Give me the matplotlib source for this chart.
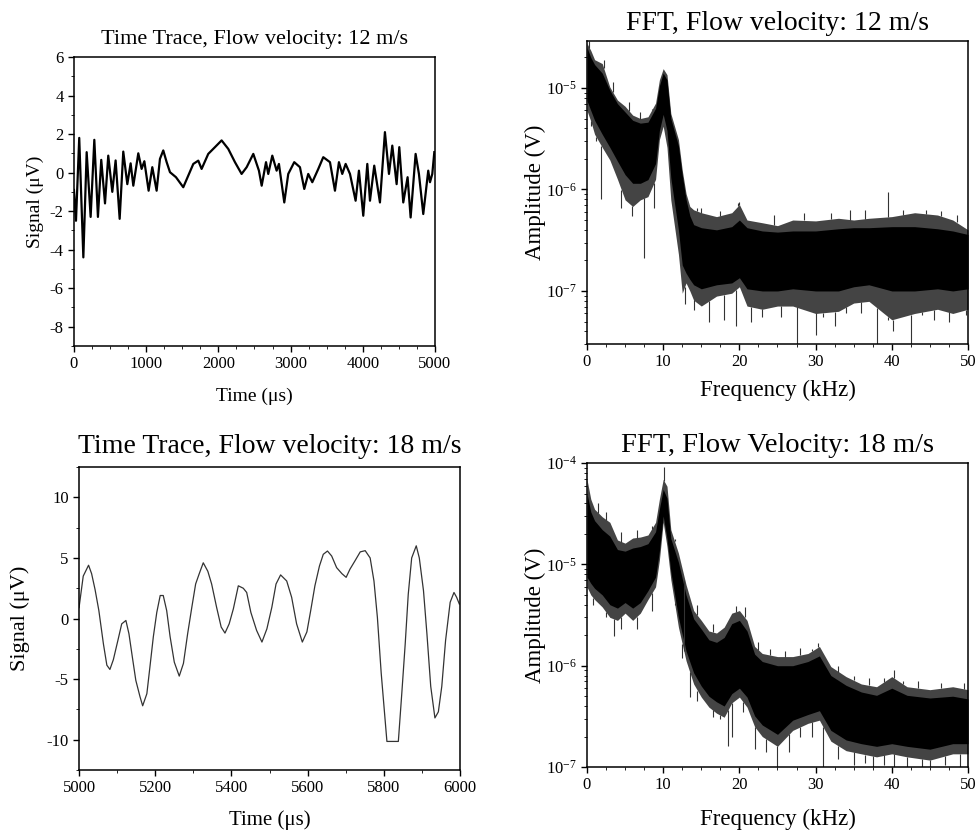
import numpy as np
import matplotlib.pyplot as plt
from matplotlib.ticker import MultipleLocator, LogLocator, LogFormatterMathtext, NullFormatter

plt.rcParams['font.family'] = ['Liberation Serif', 'DejaVu Serif']
plt.rcParams['mathtext.fontset'] = 'custom'
plt.rcParams['mathtext.rm'] = 'Liberation Serif'
plt.rcParams['mathtext.it'] = 'Liberation Serif:italic'
plt.rcParams['axes.unicode_minus'] = False

# --- Time trace, 12 m/s (peaks and troughs) ---
t12 = [0, 28, 73, 130, 176, 231, 282, 332, 378, 430, 475, 531, 577, 633, 683, 739,
       785, 822, 891, 937, 975, 1034, 1085, 1145, 1191, 1237, 1284, 1330, 1413, 1514,
       1583, 1653, 1722, 1768, 1860, 1953, 2045, 2137, 2230, 2322, 2392, 2484, 2562,
       2600, 2660, 2691, 2747, 2807, 2839, 2913, 2968, 3051, 3130, 3190, 3245, 3301,
       3384, 3453, 3546, 3615, 3670, 3716, 3763, 3823, 3901, 3947, 4007, 4063, 4100,
       4159, 4238, 4307, 4363, 4409, 4469, 4506, 4561, 4621, 4663, 4732, 4778, 4838,
       4907, 4931, 4963, 4991]
s12 = [-0.9, -2.5, 1.8, -4.4, 1.06, -2.3, 1.7, -2.3, 0.66, -1.6, 0.88, -1.0, 0.63, -2.4,
       1.09, -0.6, 0.48, -0.68, 1.0, 0.19, 0.59, -0.94, 0.28, -0.94, 0.71, 1.15, 0.54,
       0.02, -0.24, -0.76, -0.16, 0.45, 0.62, 0.19, 0.97, 1.32, 1.67, 1.23, 0.54, -0.07,
       0.28, 0.97, 0.1, -0.68, 0.54, -0.07, 0.88, 0.1, 0.45, -1.55, -0.07, 0.54, 0.28,
       -0.85, -0.07, -0.5, 0.19, 0.8, 0.54, -0.94, 0.54, -0.07, 0.45, -0.07, -1.46, 0.1,
       -2.24, 0.45, -1.46, 0.36, -1.55, 2.1, -0.07, 1.4, -0.6, 1.32, -1.55, -0.24, -2.33,
       0.97, -0.07, -2.15, 0.1, -0.5, -0.07, 1.06]

# --- Time trace, 18 m/s ---
t18 = [5000, 5011, 5025, 5033, 5042, 5052, 5064, 5073, 5081, 5090, 5102, 5112, 5123,
       5131, 5140, 5149, 5160, 5167, 5178, 5186, 5195, 5204, 5213, 5221, 5230, 5239,
       5250, 5263, 5274, 5285, 5296, 5306, 5315, 5326, 5338, 5348, 5361, 5373, 5383,
       5394, 5405, 5418, 5431, 5440, 5451, 5466, 5480, 5493, 5506, 5517, 5529, 5545,
       5558, 5571, 5586, 5598, 5608, 5619, 5631, 5641, 5652, 5663, 5676, 5690, 5701,
       5711, 5724, 5738, 5751, 5764, 5774, 5783, 5793, 5808, 5838, 5847, 5856, 5864,
       5873, 5885, 5893, 5904, 5913, 5923, 5934, 5943, 5952, 5962, 5974, 5984, 5991, 5998]
s18 = [0.9, 3.5, 4.4, 3.7, 2.4, 0.66, -2.1, -3.85, -4.2, -3.4, -1.8, -0.44, -0.16,
       -1.26, -3.2, -5.1, -6.45, -7.2, -6.2, -4.0, -1.5, 0.5, 1.9, 1.9, 0.66, -1.5,
       -3.6, -4.75, -3.7, -1.26, 0.93, 2.85, 3.66, 4.6, 3.9, 2.85, 0.93, -0.7, -1.2,
       -0.44, 0.8, 2.7, 2.5, 2.15, 0.5, -0.98, -1.94, -0.85, 0.93, 2.85, 3.6, 3.1,
       1.75, -0.44, -1.94, -1.1, 0.66, 2.7, 4.34, 5.3, 5.57, 5.16, 4.2, 3.7, 3.4,
       4.07, 4.75, 5.5, 5.6, 5.0, 3.1, 0.1, -4.5, -10.14, -10.14, -6.2, -2.1, 2.0,
       5.0, 6.0, 5.0, 2.3, -1.26, -5.6, -8.2, -7.7, -5.6, -1.8, 1.34, 2.15, 1.75, 1.2]

# --- FFT 12 m/s: outer extent and dense core of the noisy spectrum ---
f12 = [0, 0.5, 1, 2, 3, 4, 5, 6, 7, 8, 9, 9.5, 10, 10.5, 11, 12, 12.5, 13, 13.5, 14,
       15, 17, 19, 20, 21, 23, 25, 27, 30, 33, 35, 37, 40, 43, 46, 48, 50]
a12_hi = [2.75e-5, 2.34e-5, 1.9e-5, 1.74e-5, 1.02e-5, 7.6e-6, 6.6e-6, 5.4e-6, 5.0e-6,
          5.2e-6, 7.1e-6, 1.2e-5, 1.55e-5, 1.35e-5, 5.6e-6, 3.1e-6, 1.55e-6, 9.1e-7,
          6.8e-7, 6.3e-7, 5.9e-7, 5.4e-7, 5.9e-7, 7.1e-7, 5.0e-7, 4.7e-7, 4.4e-7, 5.0e-7,
          4.9e-7, 5.2e-7, 5.0e-7, 5.2e-7, 5.4e-7, 5.9e-7, 5.6e-7, 5.0e-7, 4.0e-7]
a12_lo = [6.0e-6, 4.7e-6, 3.5e-6, 2.6e-6, 1.95e-6, 1.26e-6, 7.9e-7, 6.8e-7, 7.9e-7,
          8.5e-7, 1.26e-6, 3.1e-6, 4.2e-6, 2.6e-6, 7.9e-7, 2.3e-7, 9.5e-8, 1.2e-7,
          1.0e-7, 8.1e-8, 7.1e-8, 8.9e-8, 9.5e-8, 1.1e-7, 7.1e-8, 6.6e-8, 7.1e-8, 7.1e-8,
          6.0e-8, 6.3e-8, 7.6e-8, 7.9e-8, 5.2e-8, 6.0e-8, 6.6e-8, 6.0e-8, 6.6e-8]
c12_hi = [2.5e-5, 2.0e-5, 1.7e-5, 1.4e-5, 9.5e-6, 7e-6, 5.8e-6, 4.8e-6, 4.5e-6, 4.6e-6,
          6.3e-6, 1.05e-5, 1.4e-5, 1.2e-5, 5e-6, 2.7e-6, 1.4e-6, 8e-7, 5.5e-7, 4.5e-7,
          4.2e-7, 4e-7, 4.3e-7, 5e-7, 4.2e-7, 3.9e-7, 3.8e-7, 3.9e-7, 3.9e-7, 4.1e-7,
          4.2e-7, 4.2e-7, 4.3e-7, 4.3e-7, 4.1e-7, 3.9e-7, 3.6e-7]
c12_lo = [7.5e-6, 6e-6, 4.8e-6, 3.5e-6, 2.6e-6, 1.9e-6, 1.4e-6, 1.15e-6, 1.15e-6,
          1.25e-6, 1.8e-6, 3.8e-6, 5.5e-6, 3.8e-6, 1.3e-6, 4e-7, 1.8e-7, 1.5e-7, 1.3e-7,
          1.15e-7, 1.05e-7, 1.15e-7, 1.2e-7, 1.35e-7, 1.05e-7, 1.0e-7, 1.0e-7, 1.05e-7,
          1.0e-7, 1.0e-7, 1.1e-7, 1.15e-7, 1.0e-7, 1.0e-7, 1.05e-7, 1.0e-7, 1.05e-7]
# spikes sticking out of the band (frequency, tip amplitude)
sp12_f = [1.9, 7.5, 12.8, 16.0, 21.5, 27.5, 30.1, 32.5, 38.1, 40.1, 42.5, 14.5, 20.0, 39.5,
          0.3, 2.2, 3.4, 5.5, 7.0, 8.5, 15.0, 17.5, 19.8, 24.5, 28.5, 32.0, 34.5, 36.5,
          41.5, 44.5, 46.5, 48.5,
          0.5, 1.2, 4.5, 5.9, 8.8, 14.0, 18.0, 19.5, 23.0, 25.5, 31.0, 34.0, 36.0, 39.5,
          44.0, 45.5, 47.5, 49.8]
sp12_a = [8e-7, 2.1e-7, 7.4e-8, 5e-8, 5e-8, 3e-8, 3.7e-8, 4.5e-8, 3e-8, 4e-8, 3e-8,
          6.5e-7, 7.5e-7, 9.5e-7,
          2.9e-5, 1.9e-5, 1.15e-5, 7.2e-6, 5.8e-6, 6.2e-6, 6.6e-7, 6.2e-7, 7.4e-7, 5.6e-7,
          5.8e-7, 5.9e-7, 6.3e-7, 6.3e-7, 6.3e-7, 6.3e-7, 6.2e-7, 5.6e-7,
          4.2e-6, 3.0e-6, 6.5e-7, 5.5e-7, 6.5e-7, 6.5e-8, 5.2e-8, 4.5e-8, 5.6e-8, 5.6e-8,
          5.6e-8, 6.0e-8, 6.1e-8, 5.2e-8, 5.8e-8, 5.2e-8, 4.9e-8, 5.8e-8]

# --- FFT 18 m/s ---
f18 = [0, 0.5, 1, 2, 3, 4, 5, 6, 7, 8, 9, 9.5, 10, 10.5, 11, 12, 13, 14, 15, 16, 17,
       18, 19, 20, 21, 22, 23, 25, 27, 29, 30.5, 32, 34, 36, 38, 40, 42, 45, 48, 50]
a18_hi = [6.9e-5, 4.4e-5, 3.5e-5, 2.95e-5, 2.6e-5, 1.74e-5, 1.62e-5, 1.82e-5, 1.86e-5,
          1.95e-5, 2.6e-5, 4.4e-5, 6.9e-5, 5.9e-5, 2.2e-5, 1.29e-5, 6.3e-6, 3.5e-6,
          2.8e-6, 2.2e-6, 2.1e-6, 2.4e-6, 3.3e-6, 3.5e-6, 2.8e-6, 1.55e-6, 1.32e-6,
          1.23e-6, 1.23e-6, 1.32e-6, 1.55e-6, 9.8e-7, 7.8e-7, 6.6e-7, 6.2e-7, 7.8e-7,
          6.2e-7, 5.8e-7, 6.2e-7, 5.8e-7]
a18_lo = [6.0e-6, 5.0e-6, 4.5e-6, 3.8e-6, 3.0e-6, 2.8e-6, 3.3e-6, 2.8e-6, 3.3e-6,
          4.5e-6, 6.0e-6, 1.1e-5, 2.6e-5, 1.5e-5, 7.1e-6, 2.4e-6, 1.12e-6, 6.6e-7,
          4.9e-7, 3.9e-7, 3.4e-7, 3.1e-7, 4.3e-7, 4.9e-7, 3.9e-7, 2.5e-7, 2.0e-7,
          1.6e-7, 2.3e-7, 2.7e-7, 2.9e-7, 1.8e-7, 1.45e-7, 1.35e-7, 1.26e-7, 1.35e-7,
          1.26e-7, 1.17e-7, 1.35e-7, 1.35e-7]
c18_hi = [5e-5, 3.3e-5, 2.7e-5, 2.2e-5, 1.9e-5, 1.4e-5, 1.35e-5, 1.45e-5, 1.5e-5,
          1.6e-5, 2.1e-5, 3.5e-5, 5.5e-5, 4.5e-5, 1.8e-5, 1.05e-5, 5e-6, 2.9e-6, 2.3e-6,
          1.8e-6, 1.7e-6, 1.9e-6, 2.6e-6, 2.8e-6, 2.2e-6, 1.3e-6, 1.1e-6, 1.0e-6, 1.0e-6,
          1.1e-6, 1.25e-6, 8e-7, 6.4e-7, 5.5e-7, 5.1e-7, 6e-7, 5.1e-7, 4.8e-7, 5e-7, 4.7e-7]
c18_lo = [7.5e-6, 6.5e-6, 5.8e-6, 5e-6, 4e-6, 3.7e-6, 4.2e-6, 3.7e-6, 4.2e-6, 5.5e-6,
          7.5e-6, 1.35e-5, 3e-5, 1.8e-5, 8.5e-6, 3e-6, 1.4e-6, 8.5e-7, 6.3e-7, 5e-7,
          4.4e-7, 4e-7, 5.3e-7, 6e-7, 4.9e-7, 3.2e-7, 2.6e-7, 2.1e-7, 2.9e-7, 3.3e-7,
          3.6e-7, 2.3e-7, 1.85e-7, 1.7e-7, 1.6e-7, 1.7e-7, 1.6e-7, 1.5e-7, 1.7e-7, 1.7e-7]
sp18_f = [3.5, 13.5, 17.5, 18.5, 22.0, 25.0, 31.0, 37.5, 40.3, 45.0, 10.1, 20.7, 30.3, 40.3,
          1.5, 2.5, 4.5, 6.5, 8.5, 11.5, 12.7, 14.5, 16.5, 19.5, 22.5, 24.0, 26.0, 28.0,
          29.5, 33.0, 35.0, 37.0, 39.0, 41.5, 43.5, 46.5, 49.5,
          0.8, 2.5, 4.5, 6.5, 8.5, 11.5, 12.5, 14.5, 16.5, 19.0, 20.5, 23.5, 26.5, 28.0,
          29.5, 33.0, 35.0, 36.5, 39.0, 42.0, 44.0, 47.0, 49.0]
sp18_a = [1.95e-6, 4.9e-7, 3e-7, 1.6e-7, 1.5e-7, 1e-7, 1e-7, 1e-7, 1e-7, 1e-7,
          9.2e-5, 3.8e-6, 1.66e-6, 9e-7,
          4e-5, 3.3e-5, 2.1e-5, 2.2e-5, 2.4e-5, 1.8e-5, 7e-6, 4e-6, 2.6e-6, 3.9e-6, 1.7e-6,
          1.45e-6, 1.4e-6, 1.5e-6, 1.45e-6, 1.0e-6, 8e-7, 7.5e-7, 7.5e-7, 7e-7, 7e-7,
          6.8e-7, 6.8e-7,
          4e-6, 3e-6, 2.3e-6, 2.3e-6, 3.5e-6, 4e-6, 1.2e-6, 4.5e-7, 3.1e-7, 2e-7, 3.5e-7,
          1.4e-7, 1.4e-7, 2e-7, 2e-7, 1.2e-7, 1.05e-7, 1.1e-7, 1.05e-7, 1e-7, 1e-7,
          1.05e-7, 1e-7]

fig = plt.figure(figsize=(9.77, 8.34), dpi=100)


def style_axis(ax, size):
    ax.tick_params(direction='out', top=False, right=False, length=4, width=1, labelsize=size)
    ax.tick_params(which='minor', direction='out', top=False, right=False, length=2.5)
    for s in ax.spines.values():
        s.set_linewidth(1.1)


def draw_fft(ax, f, hi, lo, core_hi, core_lo, sp_f, sp_a):
    ax.fill_between(f, lo, hi, color='#444444', lw=0)
    ax.fill_between(f, core_lo, core_hi, color='black', lw=0)
    lhi = np.interp(sp_f, f, np.log10(hi))
    llo = np.interp(sp_f, f, np.log10(lo))
    base = [10 ** (h if a > 10 ** h else l) for a, h, l in zip(sp_a, lhi, llo)]
    ax.vlines(sp_f, base, sp_a, color='#333333', lw=0.8)
    ax.set_yscale('log')
    ax.set_xlim(0, 50)
    ax.xaxis.set_major_locator(MultipleLocator(10))
    ax.xaxis.set_minor_locator(MultipleLocator(2.5))
    ax.yaxis.set_major_locator(LogLocator(base=10))
    ax.yaxis.set_major_formatter(LogFormatterMathtext())
    ax.yaxis.set_minor_locator(LogLocator(base=10, subs=np.arange(2, 10)))
    ax.yaxis.set_minor_formatter(NullFormatter())


# Top left
ax1 = fig.add_axes([0.0757, 0.5851, 0.3695, 0.3466])
ax1.plot(t12, s12, color='black', lw=1.6)
ax1.set_xlim(0, 5000)
ax1.set_ylim(-9, 6)
ax1.xaxis.set_major_locator(MultipleLocator(1000))
ax1.xaxis.set_minor_locator(MultipleLocator(250))
ax1.yaxis.set_major_locator(MultipleLocator(2))
ax1.yaxis.set_minor_locator(MultipleLocator(1))
ax1.set_title('Time Trace, Flow velocity: 12 m/s', fontsize=16, pad=9)
ax1.set_xlabel('Time (μs)', fontsize=14, labelpad=11)
ax1.set_ylabel('Signal (μV)', fontsize=14)
style_axis(ax1, 12)

# Top right
ax2 = fig.add_axes([0.6008, 0.5875, 0.39, 0.3633])
draw_fft(ax2, f12, a12_hi, a12_lo, c12_hi, c12_lo, sp12_f, sp12_a)
ax2.set_ylim(3e-8, 2.9e-5)
ax2.set_title('FFT, Flow velocity: 12 m/s', fontsize=20, pad=8)
ax2.set_xlabel('Frequency (kHz)', fontsize=16.5, labelpad=7)
ax2.set_ylabel('Amplitude (V)', fontsize=16.5, labelpad=0)
style_axis(ax2, 12)

# Bottom left
ax3 = fig.add_axes([0.0809, 0.0767, 0.39, 0.3633])
ax3.plot(t18, s18, color='#333333', lw=0.9)
ax3.set_xlim(5000, 6000)
ax3.set_ylim(-12.5, 12.5)
ax3.xaxis.set_major_locator(MultipleLocator(200))
ax3.xaxis.set_minor_locator(MultipleLocator(100))
ax3.yaxis.set_major_locator(MultipleLocator(5))
ax3.yaxis.set_minor_locator(MultipleLocator(2.5))
ax3.set_title('Time Trace, Flow velocity: 18 m/s', fontsize=20, pad=10)
ax3.set_xlabel('Time (μs)', fontsize=15, labelpad=10)
ax3.set_ylabel('Signal (μV)', fontsize=16, labelpad=12)
style_axis(ax3, 12)

# Bottom right
ax4 = fig.add_axes([0.6008, 0.0803, 0.39, 0.3645])
draw_fft(ax4, f18, a18_hi, a18_lo, c18_hi, c18_lo, sp18_f, sp18_a)
ax4.set_ylim(1e-7, 1e-4)
ax4.set_title('FFT, Flow Velocity: 18 m/s', fontsize=20.5, pad=8)
ax4.set_xlabel('Frequency (kHz)', fontsize=16.5, labelpad=11)
ax4.set_ylabel('Amplitude (V)', fontsize=16.5, labelpad=0)
style_axis(ax4, 12)

fig.savefig('out.png', dpi=100)
